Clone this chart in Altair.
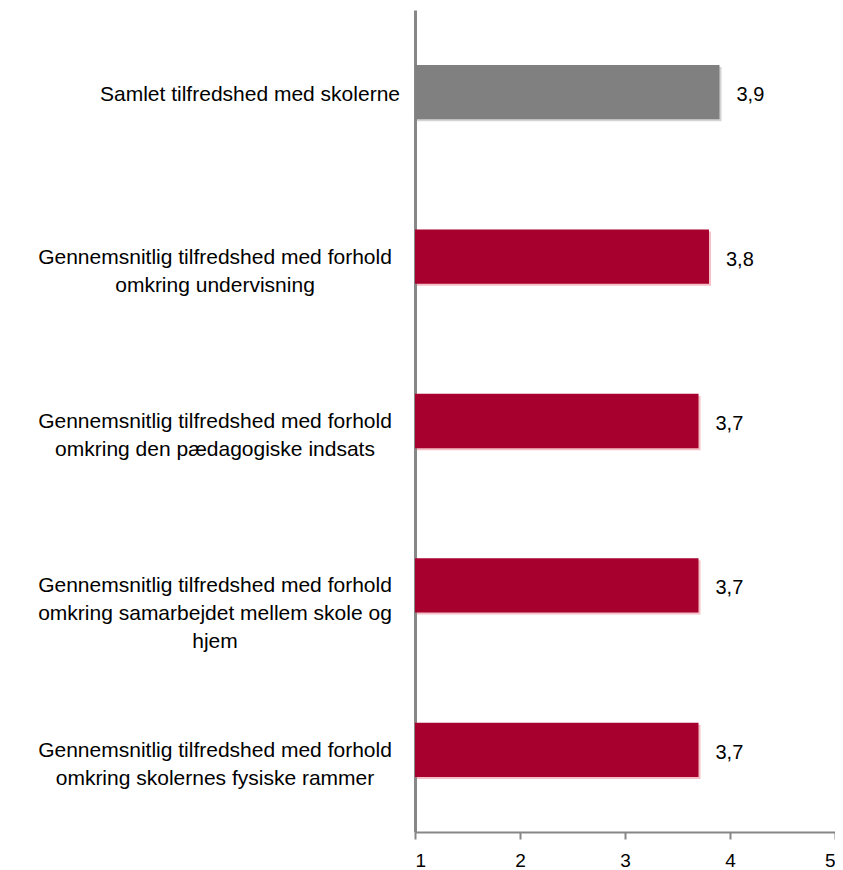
import altair as alt
import pandas as pd

categories = [
    "Samlet tilfredshed med skolerne",
    "Gennemsnitlig tilfredshed med forhold\nomkring undervisning",
    "Gennemsnitlig tilfredshed med forhold\nomkring den pædagogiske indsats",
    "Gennemsnitlig tilfredshed med forhold\nomkring samarbejdet mellem skole og\nhjem",
    "Gennemsnitlig  tilfredshed med forhold\nomkring skolernes fysiske rammer",
]
values = [3.9, 3.8, 3.7, 3.7, 3.7]
groups = ["total", "sub", "sub", "sub", "sub"]
x_ticks = [1, 2, 3, 4, 5]

df = pd.DataFrame({"cat": categories, "value": values, "group": groups})

FONT = "Liberation Sans"
y_enc = alt.Y(
    "cat:N",
    sort=None,
    scale=alt.Scale(paddingInner=0.67, paddingOuter=0.335),
    axis=alt.Axis(
        labels=False, ticks=False, title=None, domainColor="#878787",
        domainWidth=3, grid=False,
    ),
)
x_scale = alt.Scale(domain=[1, 5], zero=False, nice=False)

shadow = alt.Chart(df).mark_bar(xOffset=2, x2Offset=2, yOffset=2, y2Offset=2).encode(
    x=alt.X("value:Q", scale=x_scale),
    x2=alt.datum(1),
    y=alt.Y("cat:N", sort=None),
    color=alt.Color(
        "group:N",
        scale=alt.Scale(domain=["total", "sub"], range=["#D4D4D4", "#F5BFC6"]),
        legend=None,
    ),
)

bars = alt.Chart(df).mark_bar().encode(
    x=alt.X(
        "value:Q",
        scale=x_scale,
        axis=alt.Axis(
            values=x_ticks, title=None, grid=False, domainColor="#878787",
            domainWidth=2, tickColor="#878787", tickWidth=2, tickSize=7,
            labelFontSize=19, labelColor="#000000", labelFont=FONT,
            labelPadding=12, format="d",
        ),
    ),
    x2=alt.datum(1),
    y=y_enc,
    color=alt.Color(
        "group:N",
        scale=alt.Scale(domain=["total", "sub"], range=["#808080", "#A8002E"]),
        legend=None,
    ),
)

vals = alt.Chart(df).transform_calculate(
    lbl="replace(format(datum.value, '.1f'), '.', ',')"
).mark_text(align="left", baseline="middle", dx=17, dy=3, fontSize=20, font=FONT, color="#000000").encode(
    x=alt.X("value:Q", scale=x_scale),
    y=alt.Y("cat:N", sort=None),
    text="lbl:N",
)

single = alt.Chart(df).transform_filter(
    "indexof(datum.cat, '\\n') < 0"
).mark_text(align="right", baseline="middle", dy=3, fontSize=21, font=FONT, color="#000000",
            lineBreak="\n", lineHeight=27).encode(
    x=alt.value(-15),
    y=alt.Y("cat:N", sort=None),
    text="cat:N",
)

multi = alt.Chart(df).transform_filter(
    "indexof(datum.cat, '\\n') >= 0"
).mark_text(align="center", baseline="middle", dy=1, fontSize=21, font=FONT, color="#000000",
            lineBreak="\n", lineHeight=28).encode(
    x=alt.value(-200),
    y=alt.Y("cat:N", sort=None),
    text="cat:N",
)

chart = alt.layer(shadow, bars, vals, single, multi).resolve_scale(
    color="independent"
).properties(
    width=420,
    height=822,
    autosize=alt.AutoSizeParams(type="none"),
    padding={"left": 407, "top": 2, "right": 0, "bottom": 38},
).configure_view(stroke=None)

chart.save("out.html", embed_options={"renderer": "svg", "actions": False})
